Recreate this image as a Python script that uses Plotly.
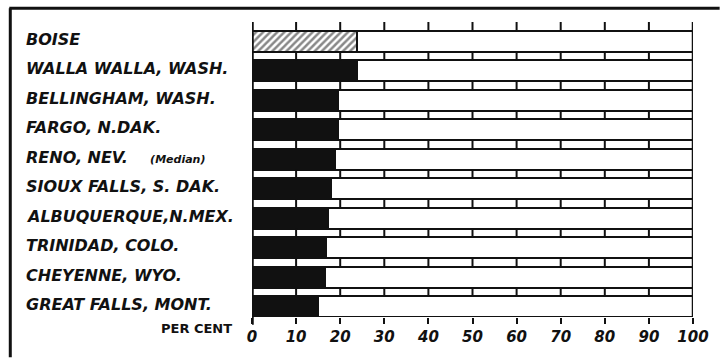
import plotly.graph_objects as go

cities = [
    "BOISE",
    "WALLA WALLA, WASH.",
    "BELLINGHAM, WASH.",
    "FARGO, N.DAK.",
    "RENO, NEV.&nbsp;&nbsp;&nbsp;&nbsp;<span style='font-size:11px'>(Median)</span>",
    "SIOUX FALLS, S. DAK.",
    "ALBUQUERQUE,N.MEX.",
    "TRINIDAD, COLO.",
    "CHEYENNE, WYO.",
    "GREAT FALLS, MONT.",
]
per_cent = [23.7, 23.7, 19.5, 19.4, 18.8, 17.8, 17.3, 16.7, 16.6, 14.9]
tick_vals = [0, 10, 20, 30, 40, 50, 60, 70, 80, 90, 100]

INK = "#111111"
W, H = 721, 358
L, R, T, B = 252, 22, 22, 36
pw, ph = W - L - R, H - T - B


def px(x):
    return (x - L) / pw


def py(y):
    return (H - B - y) / ph


rows = list(range(len(cities)))
bar_w = 0.7

fig = go.Figure()

# full-length outlined boxes (0..100)
fig.add_trace(go.Bar(
    y=rows, x=[100] * len(rows), orientation="h", width=bar_w,
    marker=dict(color="white", line=dict(color=INK, width=2)),
    hoverinfo="skip", showlegend=False,
))

# Boise hatched
fig.add_trace(go.Bar(
    y=rows[:1], x=per_cent[:1], orientation="h", width=bar_w,
    marker=dict(color="white", line=dict(color=INK, width=2),
                pattern=dict(shape="/", fgcolor=INK, bgcolor="white",
                             size=5, solidity=0.5)),
    showlegend=False,
))

# the others solid black
fig.add_trace(go.Bar(
    y=rows[1:], x=per_cent[1:], orientation="h", width=bar_w,
    marker=dict(color=INK, line=dict(color=INK, width=2)),
    showlegend=False,
))

# tick marks in the gaps between the bars and above the top bar
gx, gy = [], []
half = bar_w / 2
for i in range(-1, len(rows) - 1):
    for t in tick_vals[1:-1]:
        gx += [t, t, None]
        gy += [i + half, i + 1 - half, None]
fig.add_trace(go.Scatter(
    x=gx, y=gy, mode="lines", line=dict(color=INK, width=2),
    hoverinfo="skip", showlegend=False,
))

for i, name in enumerate(cities):
    fig.add_annotation(
        x=px(21), xref="paper", xanchor="left",
        y=i, yref="y", yshift=2, showarrow=False,
        text="<b><i>" + name + "</i></b>",
        font=dict(family="DejaVu Sans", size=16, color=INK),
    )

fig.add_annotation(
    x=px(234), xref="paper", xanchor="right",
    y=py(334), yref="paper", yanchor="middle", showarrow=False,
    text="<b>PER CENT</b>",
    font=dict(family="DejaVu Sans", size=13, color=INK),
)

shapes = [
    # left and right edges of the scale
    dict(type="line", xref="x", yref="paper", x0=0, x1=0, y0=py(330), y1=1,
         line=dict(color=INK, width=3.5)),
    dict(type="line", xref="x", yref="paper", x0=100, x1=100, y0=0, y1=1,
         line=dict(color=INK, width=2.5)),
    # frame of the scanned page
    dict(type="line", xref="paper", yref="paper", x0=px(6), x1=px(W + 5),
         y0=py(8), y1=py(8), line=dict(color=INK, width=3)),
    dict(type="line", xref="paper", yref="paper", x0=px(7), x1=px(7),
         y0=py(8), y1=py(H + 5), line=dict(color=INK, width=3)),
]

fig.update_layout(
    width=W, height=H,
    margin=dict(l=L, r=R, t=T, b=B),
    barmode="overlay",
    bargap=0,
    paper_bgcolor="white",
    plot_bgcolor="white",
    shapes=shapes,
    xaxis=dict(
        range=[0, 100], tickvals=tick_vals, ticktext=[str(v) for v in tick_vals],
        ticks="outside", ticklen=6, tickwidth=2, tickcolor=INK,
        showgrid=False, zeroline=False, showline=False, fixedrange=True,
        tickfont=dict(family="DejaVu Sans", size=15, color=INK,
                      weight="bold", style="italic"),
        ticklabelstandoff=0,
    ),
    yaxis=dict(range=[len(rows) - 1 + half, -1 + half], visible=False,
               fixedrange=True),
)

fig.write_html(
    "out.html",
    config={"displayModeBar": False},
    post_script="document.body.style.margin='0';document.body.style.overflow='hidden';",
)
